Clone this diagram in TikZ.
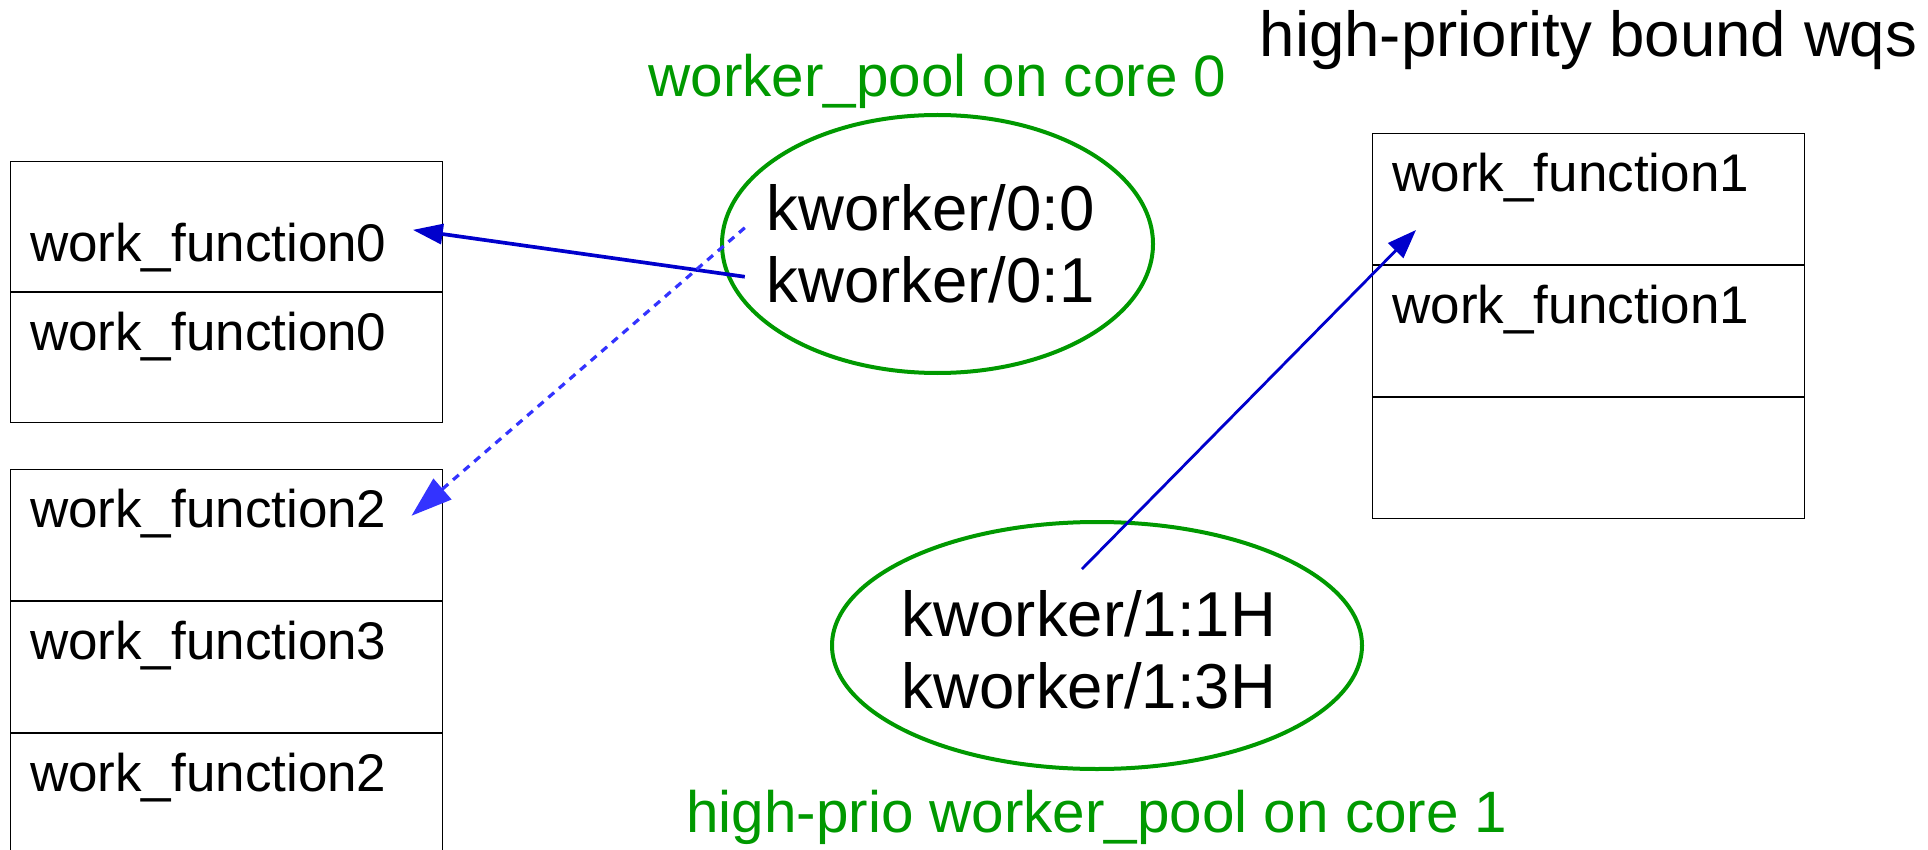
\documentclass[tikz,border=0pt]{standalone}
\usepackage{fontspec}
\setmainfont{Liberation Sans}
\usepackage{tikz}
\usetikzlibrary{arrows.meta, positioning, shapes.geometric, calc}
\usepackage{xcolor}
\definecolor{wqblue}{RGB}{0,0,204}
\definecolor{wqlight}{RGB}{51,51,255}
\definecolor{poolgreen}{RGB}{0,153,0}
\newcommand{\slotfont}{\fontsize{26.5pt}{30pt}\selectfont}
\newcommand{\kwfont}{\fontsize{31.75pt}{36pt}\selectfont}

\begin{document}
\begin{tikzpicture}[
  x=0.5pt, y=-0.5pt,
  slot/.style={draw=black, line width=0.5pt, inner xsep=10pt, inner ysep=10pt,
               text width=196pt, align=left, text height=19pt, text depth=26.5pt,
               font=\slotfont},
  lowslot/.style={slot, text height=40pt, text depth=5pt},
  pool/.style={ellipse, draw=poolgreen, line width=2pt, inner sep=0pt},
  kworkers/.style={align=center, inner sep=10.6pt, font=\kwfont},
  poollabel/.style={text=poolgreen, inner sep=0pt,
                    font=\fontsize{29.2pt}{34pt}\selectfont},
  title/.style={inner sep=0pt, font=\fontsize{31.8pt}{36pt}\selectfont},
  runs/.style={-{Triangle[length=15pt, width=10pt]}, line width=1.85pt, wqblue},
  runshigh/.style={-{Triangle[length=14.5pt, width=10.5pt]}, line width=1.4pt, wqblue},
  pending/.style={-{Triangle[length=20.5pt, width=13.5pt]}, line width=1.6pt,
                  dash pattern=on 3.8pt off 3.2pt, wqlight}
]
\useasboundingbox (0,0) rectangle (1928,850);
\clip (0,0) rectangle (1928,850);

% per-cpu work queues
\node[lowslot, anchor=north west] (wq0a) at (9.5,161) {work\_function0};
\node[slot, below=0pt of wq0a, text depth=26pt] (wq0b) {work\_function0};

\node[slot, anchor=north west] (wq2a) at (9.5,469) {work\_function2};
\node[slot, below=0pt of wq2a] (wq2b) {work\_function3};
\node[slot, below=0pt of wq2b] (wq2c) {work\_function2};

\node[slot, anchor=north west] (hwqa) at (1372,133) {work\_function1};
\node[slot, below=0pt of hwqa] (hwqb) {work\_function1};
\node[slot, below=0pt of hwqb, text depth=21.5pt] (hwqc) {};
\node[title, above=31.5pt of hwqa] (hwqlbl) {high-priority bound wqs};

% worker pools
\node[pool, minimum width=215.5pt, minimum height=129pt] (pool0) at (937.5,244) {};
\node[kworkers] (kw0) at ([xshift=-3.5pt]pool0) {kworker/0:0\\kworker/0:1};
\node[poollabel, above=2.2pt of pool0] (pool0lbl) {worker\_pool on core 0};

\node[pool, minimum width=265pt, minimum height=123.5pt] (pool1) at (1097,645.5) {};
\node[kworkers] (kw1) at ([shift={(-4pt,-2.25pt)}]pool1) {kworker/1:1H\\kworker/1:3H};
\node[poollabel, below=9.5pt of pool1] (pool1lbl) {high-prio worker\_pool on core 1};

\draw[runs, shorten >=-15pt] (kw0.190) -- (wq0a.-2);
\draw[pending, shorten >=-20.5pt] (kw0.175) -- (wq2a.12);
\draw[runshigh] (kw1.95) -- ($(hwqa.south west)+(44,-35)$);
\end{tikzpicture}
\end{document}
